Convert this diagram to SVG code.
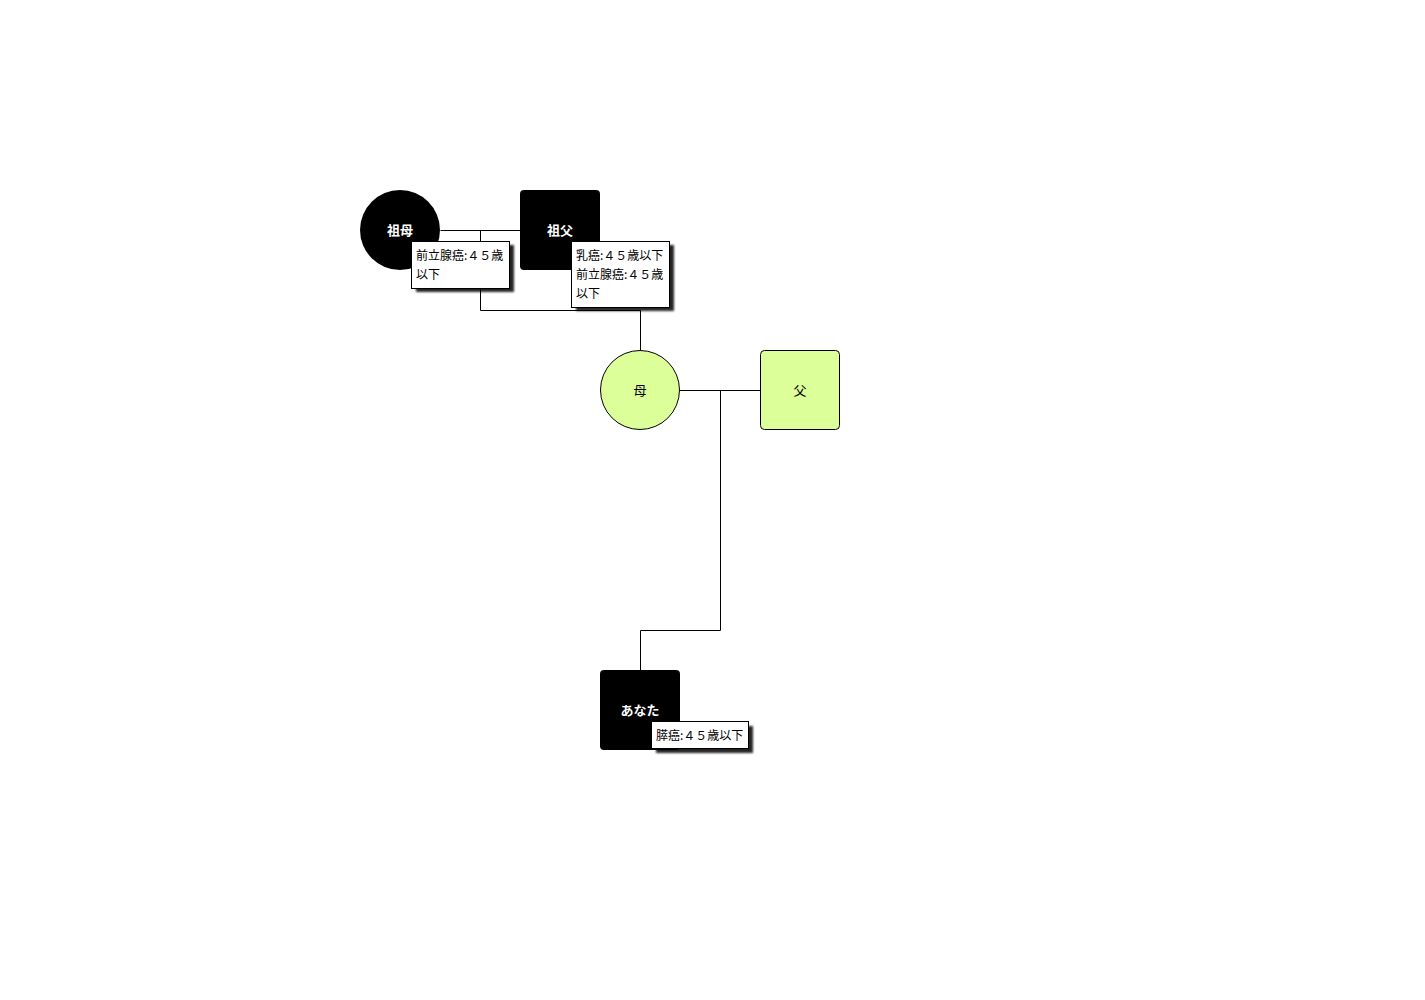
<svg xmlns="http://www.w3.org/2000/svg" width="1425" height="1000" viewBox="0 0 1425 1000">
<defs>
<filter id="blur" x="-20%" y="-20%" width="140%" height="140%">
<feGaussianBlur stdDeviation="1.2"/>
</filter>
<style>
.lbl{font-family:"Noto Sans CJK JP","Noto Sans",sans-serif;font-size:12px;fill:#000}
.nm{font-family:"Noto Sans CJK JP","Noto Sans",sans-serif;font-size:13px;text-anchor:middle;dominant-baseline:central}
.w{fill:#fff;font-weight:bold}
.k{fill:#000}
.box{fill:#fff;stroke:#000;stroke-width:1}
.sh{fill:#000;opacity:0.85;filter:url(#blur)}
.conn{fill:none;stroke:#000;stroke-width:1}
</style>
</defs>
<rect width="1425" height="1000" fill="#fff"/>
<g id="connectors">
<path class="conn" d="M440.5,230.5 H520.5"/>
<path class="conn" d="M480.5,230.5 V310.5 H640.5 V350"/>
<path class="conn" d="M680,390.5 H760"/>
<path class="conn" d="M720.5,390.5 V630.5 H640.5 V670"/>
</g>
<g id="sobo">
<circle cx="400" cy="230" r="40" fill="#000"/>
<text class="nm w" x="400" y="229">祖母</text>
</g>
<g id="sofu">
<rect x="520" y="190" width="80" height="80" rx="4" fill="#000"/>
<text class="nm w" x="560" y="229">祖父</text>
</g>
<g id="haha">
<circle cx="640" cy="390" r="39.5" fill="#ddff99" stroke="#000" stroke-width="1"/>
<text class="nm k" x="640" y="389">母</text>
</g>
<g id="chichi">
<rect x="760.5" y="350.5" width="79" height="79" rx="4" fill="#ddff99" stroke="#000" stroke-width="1"/>
<text class="nm k" x="800" y="389">父</text>
</g>
<g id="anata">
<rect x="600" y="670" width="80" height="80" rx="4" fill="#000"/>
<text class="nm w" x="640" y="709">あなた</text>
</g>
<g id="sobo-label">
<rect class="sh" x="416" y="245" width="98" height="47"/>
<rect class="box" x="411.5" y="241.5" width="98" height="47"/>
<text class="lbl" x="416" y="260">前立腺癌:４５歳</text>
<text class="lbl" x="416" y="279">以下</text>
</g>
<g id="sofu-label">
<rect class="sh" x="576" y="245" width="98" height="66"/>
<rect class="box" x="571.5" y="241.5" width="98" height="66"/>
<text class="lbl" x="576" y="260">乳癌:４５歳以下</text>
<text class="lbl" x="576" y="279">前立腺癌:４５歳</text>
<text class="lbl" x="576" y="298">以下</text>
</g>
<g id="anata-label">
<rect class="sh" x="656" y="726" width="97" height="27"/>
<rect class="box" x="651.5" y="721.5" width="97" height="27"/>
<text class="lbl" x="656" y="740">膵癌:４５歳以下</text>
</g>
</svg>
